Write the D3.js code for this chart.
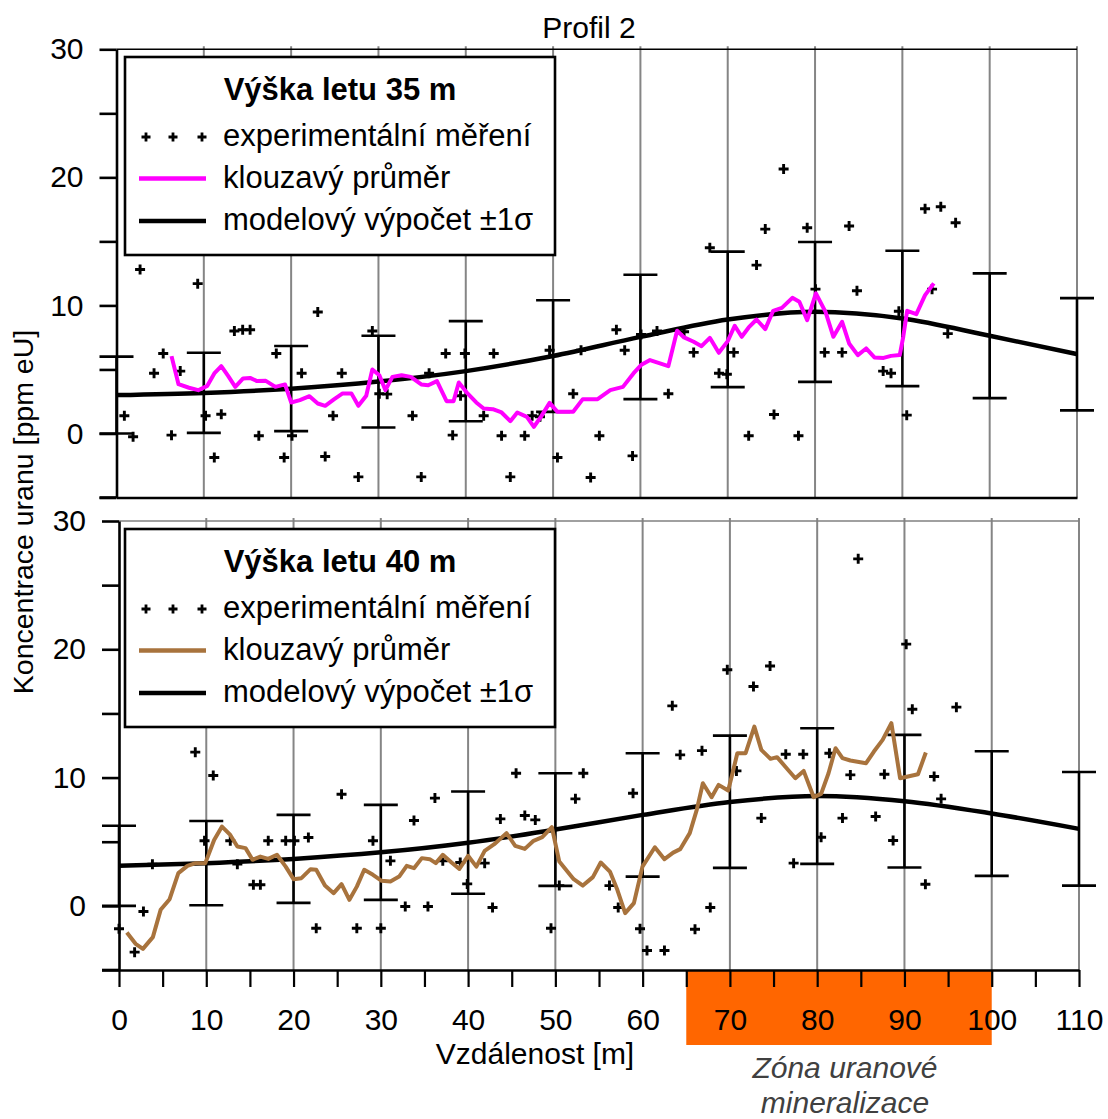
<!DOCTYPE html>
<html>
<head>
<meta charset="utf-8">
<script src="https://cdn.jsdelivr.net/npm/d3@7"></script>
<style>
  body { margin: 0; background: #fff; }
  text { font-family: "Liberation Sans", Arial, sans-serif; fill: #000; }
</style>
</head>
<body>
<div id="wrapper"></div>
<script>
// ---- data ----
const modelX = [0, 10, 20, 30, 40, 50, 60, 70, 80, 90, 100, 110];

// Výška letu 35 m
const topModel = [3.0, 3.17, 3.5, 4.05, 4.87, 6.05, 7.54, 8.9, 9.5, 8.98, 7.63, 6.2];
const topLow = [0, 0.05, 0.18, 0.47, 0.96, 1.69, 2.68, 3.62, 4.03, 3.7, 2.76, 1.8];
const topHigh = [6.0, 6.3, 6.83, 7.63, 8.77, 10.4, 12.4, 14.2, 14.95, 14.27, 12.5, 10.57];
const topPoints = [
  [0.9, 1.38], [1.9, -0.26], [2.7, 12.8], [4.3, 4.7], [5.35, 6.25], [6.3, -0.13], [7.3, 4.87], [9.3, 11.7],
  [10.2, 1.38], [11.2, -1.88], [12.0, 1.5], [13.5, 8.0], [14.45, 8.1], [15.3, 8.1], [16.3, -0.18], [18.3, 6.25],
  [19.2, -1.88], [20.1, -0.18], [21.2, 4.7], [23.05, 9.48], [23.9, -1.8], [24.8, 1.38], [25.8, 4.7], [27.7, -3.39],
  [29.3, 8.0], [30.1, 3.1], [31.0, 3.07], [33.9, 1.38], [34.9, -3.39], [35.8, 4.7], [37.7, 6.25], [38.5, -0.13],
  [39.4, 2.94], [39.9, 6.25], [42.05, 1.38], [43.2, 6.25], [44.1, -0.18], [45.1, -3.39], [46.75, -0.18], [47.6, 1.38],
  [48.5, 1.3], [49.6, 6.5], [50.5, -1.88], [52.3, 3.1], [53.2, 6.5], [54.3, -3.44], [55.3, -0.18], [57.25, 8.1],
  [58.2, 6.5], [59.1, -1.75], [60.07, 7.73], [61.9, 8.0], [63.2, 3.1], [65.0, 7.94], [66.1, 6.33], [67.95, 14.5],
  [69.0, 4.7], [69.9, 4.63], [70.7, 6.33], [72.4, -0.18], [73.3, 13.15], [74.3, 15.96], [75.3, 1.48], [76.4, 20.65],
  [78.1, -0.18], [79.1, 16.06], [80.05, 11.27], [81.1, 6.33], [83.1, 6.33], [83.9, 16.2], [84.8, 11.14], [87.8, 4.87],
  [88.7, 4.7], [89.6, 9.55], [90.5, 1.43], [92.6, 17.55], [93.4, 11.27], [94.4, 17.7], [95.2, 7.8], [96.1, 16.45]
];
const topAvg = [
  [6.3, 6.04], [7.1, 3.85], [8.3, 3.57], [9.36, 3.38], [10.4, 3.72], [11.2, 4.69], [12.0, 5.26], [12.8, 4.48],
  [13.6, 3.64], [14.5, 4.3], [15.3, 4.34], [16.1, 4.09], [17.1, 4.11], [18.2, 3.64], [19.3, 3.83], [20.0, 2.42],
  [21.0, 2.6], [22.1, 2.91], [23.05, 2.34], [23.9, 2.16], [24.9, 2.66], [25.9, 3.13], [26.9, 3.13], [27.7, 2.16],
  [28.6, 2.94], [29.3, 5.0], [30.1, 4.55], [30.8, 3.38], [31.6, 4.42], [32.65, 4.55], [33.7, 4.42], [34.9, 3.83],
  [35.7, 3.77], [36.7, 4.09], [37.8, 2.52], [38.6, 2.52], [39.2, 3.98], [40.2, 3.13], [41.2, 2.42], [42.05, 1.95],
  [43.1, 1.9], [44.1, 1.64], [45.1, 0.96], [45.9, 1.64], [47.0, 1.3], [47.8, 0.52], [48.6, 1.3], [49.6, 2.39],
  [50.5, 1.69], [52.3, 1.69], [53.4, 2.68], [55.1, 2.68], [56.55, 3.38], [58.0, 3.64], [59.2, 4.69], [60.07, 5.34],
  [61.1, 5.73], [63.2, 5.26], [64.2, 8.02], [65.0, 7.5], [66.1, 7.16], [67.0, 6.82], [67.95, 7.47], [68.98, 6.3],
  [70.0, 7.21], [70.8, 8.41], [71.6, 7.55], [72.4, 8.28], [73.3, 8.9], [74.3, 8.15], [75.2, 9.58], [76.2, 9.81],
  [77.4, 10.59], [78.2, 10.28], [79.1, 8.85], [80.1, 10.94], [81.2, 9.5], [82.1, 7.55], [83.1, 8.72], [83.9, 7.03],
  [84.9, 6.12], [85.85, 6.64], [86.8, 5.94], [87.85, 5.9], [88.7, 6.06], [89.7, 6.12], [90.1, 7.55], [90.55, 9.58],
  [91.6, 9.32], [92.6, 10.8], [93.6, 11.72]
];

// Výška letu 40 m
const botModel = [3.12, 3.33, 3.66, 4.17, 4.92, 5.95, 7.09, 8.1, 8.56, 8.16, 7.2, 6.0];
const botLow = [0, 0.05, 0.23, 0.47, 0.94, 1.56, 2.28, 2.96, 3.27, 2.99, 2.34, 1.58];
const botHigh = [6.24, 6.62, 7.09, 7.87, 8.91, 10.34, 11.9, 13.27, 13.85, 13.33, 12.05, 10.44];
const botPoints = [
  [0.0, -1.79], [1.79, -3.61], [2.8, -0.44], [3.83, 3.25], [8.74, 11.98], [9.8, 5.07], [10.8, 10.16], [12.75, 5.07],
  [13.56, 3.25], [15.4, 1.64], [16.2, 1.64], [17.1, 5.07], [19.1, 5.07], [20.1, 5.07], [21.7, 5.33], [22.6, -1.74],
  [25.5, 8.7], [27.25, -1.74], [29.1, 5.07], [30.0, -1.74], [31.1, 3.51], [32.8, -0.05], [33.8, 6.65], [35.4, -0.05],
  [36.2, 8.4], [37.1, 3.51], [39.1, 3.38], [39.9, 1.71], [41.9, 3.33], [42.8, -0.13], [43.7, 6.78], [45.5, 10.34],
  [46.5, 7.04], [47.7, 6.7], [49.5, -1.74], [50.45, 1.58], [52.3, 8.34], [53.2, 10.34], [56.2, 1.58], [57.2, -0.13],
  [58.9, 8.78], [59.7, -1.79], [60.5, -3.48], [62.5, -3.48], [63.4, 15.59], [64.3, 11.77], [66.0, -1.82], [66.8, 12.1],
  [67.75, -0.13], [69.7, 18.4], [70.75, 10.52], [72.7, 17.1], [73.6, 6.84], [74.6, 18.7], [76.4, 11.82], [77.3, 3.33],
  [78.4, 11.82], [80.45, 5.35], [81.4, 11.9], [82.9, 6.84], [83.8, 10.21], [84.7, 27.05], [86.7, 6.96], [87.7, 10.26],
  [88.7, 5.09], [90.2, 20.4], [90.9, 15.33], [92.4, 1.69], [93.4, 10.08], [94.2, 8.34], [95.95, 15.49]
];
const botAvg = [
  [0.9, -2.08], [1.9, -2.96], [2.74, -3.35], [3.88, -2.44], [4.77, -0.31], [5.8, 0.52], [6.8, 2.55], [7.84, 3.12],
  [8.78, 3.33], [9.89, 3.33], [10.9, 5.14], [11.8, 6.18], [12.75, 5.53], [13.56, 4.62], [14.5, 4.5], [15.3, 3.59],
  [16.2, 3.84], [17.1, 3.66], [18.1, 3.98], [19.1, 3.06], [20.0, 2.08], [20.9, 2.16], [21.95, 2.86], [22.6, 2.81],
  [23.6, 1.58], [24.6, 0.99], [25.5, 1.69], [26.4, 0.47], [27.25, 1.5], [28.1, 2.81], [29.1, 2.42], [30.1, 1.95],
  [31.1, 1.9], [32.1, 2.28], [32.97, 3.12], [33.8, 2.94], [34.7, 3.72], [35.6, 3.64], [36.3, 3.33], [37.1, 3.98],
  [38.1, 3.38], [39.0, 2.88], [40.0, 3.9], [40.95, 3.06], [41.9, 4.29], [43.0, 4.81], [44.4, 5.67], [45.4, 4.68],
  [46.5, 4.44], [47.5, 5.07], [48.5, 5.35], [49.6, 6.13], [50.45, 3.45], [52.1, 2.08], [53.15, 1.58], [54.3, 2.24],
  [55.2, 3.38], [56.25, 2.67], [57.1, 1.25], [58.0, -0.57], [59.0, 0.21], [59.98, 3.06], [61.4, 4.57], [62.5, 3.64],
  [63.5, 4.15], [64.3, 4.42], [65.4, 5.67], [66.2, 7.48], [66.9, 9.56], [67.9, 8.47], [68.7, 9.43], [69.8, 8.99],
  [70.3, 10.34], [70.85, 11.9], [71.8, 11.9], [72.8, 13.97], [73.6, 12.16], [74.65, 11.46], [75.4, 11.59], [76.5, 10.73],
  [77.5, 9.95], [78.45, 10.52], [79.6, 8.47], [80.45, 8.73], [81.3, 10.34], [82.1, 12.29], [82.9, 11.51], [83.8, 11.33],
  [85.6, 11.12], [86.5, 12.03], [87.5, 12.94], [88.5, 14.24], [89.5, 9.95], [90.4, 10.08], [91.55, 10.26], [92.45, 11.95]
];

const yTicks = [-5, 0, 5, 10, 15, 20, 25, 30];
const xTicks = d3.range(0, 111, 5);
const gridX = [10, 20, 30, 40, 50, 60, 70, 80, 90, 100, 110];
const legendLabels = ["experimentální měření", "klouzavý průměr", "modelový výpočet \u00b11\u03c3"];
const zone = [65, 100];

// ---- canvas ----
const width = 1108, height = 1119;
const svg = d3.select("#wrapper").append("svg")
  .attr("width", width)
  .attr("height", height);

const panels = [
  {
    title: "Výška letu 35 m", color: "#ff00ff", frame: "#000",
    xRange: [116.5, 1077], yRange: [497.5, 49.3], legendY: 57,
    model: topModel, low: topLow, high: topHigh, points: topPoints, avg: topAvg
  },
  {
    title: "Výška letu 40 m", color: "#a8733d", frame: "#808080",
    xRange: [119, 1079], yRange: [970, 521], legendY: 529,
    model: botModel, low: botLow, high: botHigh, points: botPoints, avg: botAvg
  }
];

function plusPath(cx, cy, s) {
  return `M${cx - s},${cy}h${2 * s}M${cx},${cy - s}v${2 * s}`;
}

panels.forEach((p, i) => {
  const x = d3.scaleLinear().domain([0, 110]).range(p.xRange);
  const y = d3.scaleLinear().domain([-5, 30]).range(p.yRange);
  p.x = x; p.y = y;
  const g = svg.append("g");

  // zone box under the lower axis
  if (i === 1) {
    g.append("rect")
      .attr("x", x(zone[0]))
      .attr("y", y(-5))
      .attr("width", x(zone[1]) - x(zone[0]))
      .attr("height", 75)
      .attr("fill", "#ff6600");
  }

  // grid
  g.selectAll(".grid")
    .data(gridX)
    .join("line")
    .attr("x1", d => x(d)).attr("x2", d => x(d))
    .attr("y1", y(30) - 3).attr("y2", y(-5))
    .attr("stroke", "#858585")
    .attr("stroke-width", 2);

  // top border
  g.append("line")
    .attr("x1", x(0)).attr("x2", x(110))
    .attr("y1", y(30)).attr("y2", y(30))
    .attr("stroke", p.frame).attr("stroke-width", 1.5);

  // error bars
  const bars = modelX.map((d, k) => ({ x: d, lo: p.low[k], hi: p.high[k] }));
  const eb = g.append("g").attr("stroke", "#000").attr("stroke-width", 2.6);
  eb.selectAll(".v").data(bars).join("line")
    .attr("x1", d => x(d.x)).attr("x2", d => x(d.x))
    .attr("y1", d => y(d.lo)).attr("y2", d => y(d.hi));
  eb.selectAll(".lo").data(bars).join("line")
    .attr("x1", d => x(d.x) - 17).attr("x2", d => x(d.x) + 17)
    .attr("y1", d => y(d.lo)).attr("y2", d => y(d.lo));
  eb.selectAll(".hi").data(bars).join("line")
    .attr("x1", d => x(d.x) - 17).attr("x2", d => x(d.x) + 17)
    .attr("y1", d => y(d.hi)).attr("y2", d => y(d.hi));

  // model curve
  const modelLine = d3.line()
    .x((d, k) => x(modelX[k]))
    .y(d => y(d))
    .curve(d3.curveMonotoneX);
  g.append("path")
    .attr("d", modelLine(p.model))
    .attr("fill", "none")
    .attr("stroke", "#000")
    .attr("stroke-width", 4.5);

  // measurements
  g.append("g").selectAll("path")
    .data(p.points)
    .join("path")
    .attr("d", d => plusPath(x(d[0]), y(d[1]), 5))
    .attr("stroke", "#000")
    .attr("stroke-width", 2.9);

  // moving average
  g.append("path")
    .attr("d", d3.line().x(d => x(d[0])).y(d => y(d[1]))(p.avg))
    .attr("fill", "none")
    .attr("stroke", p.color)
    .attr("stroke-width", 4)
    .attr("stroke-linejoin", "round");

  // y axis
  const yAxis = g.append("g")
    .attr("transform", `translate(${x(0)},0)`)
    .call(d3.axisLeft(y).tickValues(yTicks).tickSize(17).tickSizeOuter(0).tickPadding(16)
      .tickFormat(d => d % 10 === 0 ? d : ""));
  yAxis.select(".domain").attr("stroke-width", 2.6);
  yAxis.selectAll(".tick line").attr("stroke-width", 2.6);
  yAxis.selectAll(".tick text")
    .style("font-size", "30px")
    .style("font-family", "'Liberation Sans', Arial, sans-serif");

  // bottom axis line
  const xAxis = g.append("g")
    .attr("transform", `translate(0,${y(-5)})`)
    .call(d3.axisBottom(x).tickValues(i === 1 ? xTicks : []).tickSize(i === 1 ? 17 : 0).tickSizeOuter(0)
      .tickFormat(d => d % 10 === 0 ? d : ""));
  xAxis.select(".domain").attr("stroke-width", 2.6);
  xAxis.selectAll(".tick line").attr("stroke-width", 2.2);
  xAxis.selectAll(".tick text")
    .attr("y", 60).attr("dy", 0)
    .style("font-size", "30px")
    .style("font-family", "'Liberation Sans', Arial, sans-serif");
  // extend axis line left to the -5 tick
  g.append("line")
    .attr("x1", x(0) - 17).attr("x2", x(0))
    .attr("y1", y(-5)).attr("y2", y(-5))
    .attr("stroke", "#000").attr("stroke-width", 2.6);

  // legend
  const lg = g.append("g").attr("transform", `translate(125,${p.legendY})`);
  lg.append("rect")
    .attr("width", 430).attr("height", 198)
    .attr("fill", "#fff").attr("stroke", "#000").attr("stroke-width", 2.6);
  lg.append("text")
    .attr("x", 215).attr("y", 43)
    .attr("text-anchor", "middle")
    .style("font-size", "31px").style("font-weight", "bold")
    .text(p.title);
  const rowY = [80, 121.5, 164];
  lg.selectAll(".lt").data(legendLabels).join("text")
    .attr("x", 98).attr("y", (d, k) => rowY[k] + 9)
    .style("font-size", "31px")
    .text(d => d);
  lg.selectAll(".lp").data([21, 48, 77]).join("path")
    .attr("d", d => plusPath(d, rowY[0], 4.5))
    .attr("stroke", "#000").attr("stroke-width", 2.8);
  lg.append("line").attr("x1", 14).attr("x2", 81).attr("y1", rowY[1]).attr("y2", rowY[1])
    .attr("stroke", p.color).attr("stroke-width", 4.5);
  lg.append("line").attr("x1", 14).attr("x2", 81).attr("y1", rowY[2]).attr("y2", rowY[2])
    .attr("stroke", "#000").attr("stroke-width", 4.5);
});

// titles
svg.append("text")
  .attr("x", 589).attr("y", 38)
  .attr("text-anchor", "middle")
  .style("font-size", "30px")
  .text("Profil 2");

svg.append("text")
  .attr("transform", "translate(33,512) rotate(-90)")
  .attr("text-anchor", "middle")
  .style("font-size", "28.5px")
  .text("Koncentrace uranu [ppm eU]");

svg.append("text")
  .attr("x", 535).attr("y", 1064)
  .attr("text-anchor", "middle")
  .style("font-size", "30px")
  .text("Vzdálenost [m]");

const zoneX = (panels[1].x(zone[0]) + panels[1].x(zone[1])) / 2 + 6;
svg.append("text")
  .attr("x", zoneX).attr("y", 1078)
  .attr("text-anchor", "middle")
  .style("font-size", "30px").style("font-style", "italic")
  .style("fill", "#404040")
  .text("Zóna uranové");
svg.append("text")
  .attr("x", zoneX).attr("y", 1113)
  .attr("text-anchor", "middle")
  .style("font-size", "30px").style("font-style", "italic")
  .style("fill", "#404040")
  .text("mineralizace");
</script>
</body>
</html>
